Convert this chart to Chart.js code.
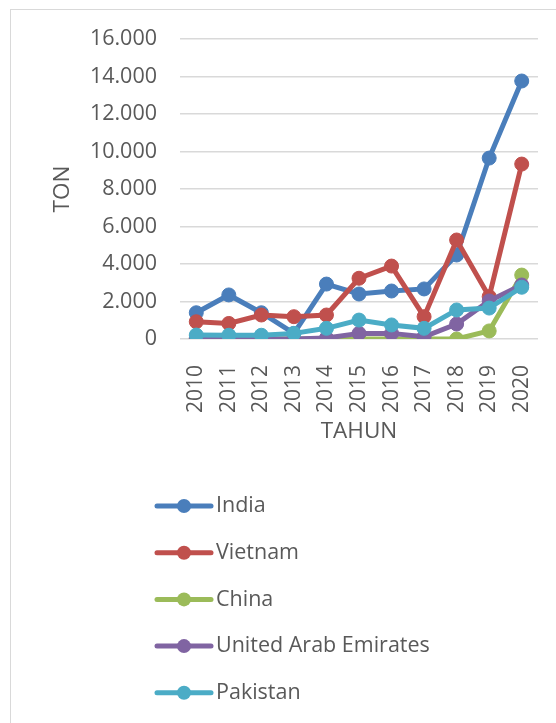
<!DOCTYPE html>
<html lang="id">
<head>
<meta charset="UTF-8">
<title>Ekspor per negara tujuan</title>
<script src="https://cdn.jsdelivr.net/npm/chart.js"></script>
<style>
    body { margin: 0; background: #fff; font-family: "Open Sans", sans-serif; }
    .frame { position: absolute; left: 10px; top: 9px; width: 600px; height: 800px; border: 1px solid #d9d9d9; }
    .wrap { position: absolute; left: 0; top: 0; width: 556px; height: 723px; }
</style>
</head>
<body>
<div class="frame"></div>
<div class="wrap"><canvas id="chart" width="556" height="723"></canvas></div>
<script>
    const years = ["2010", "2011", "2012", "2013", "2014", "2015", "2016", "2017", "2018", "2019", "2020"];
    const india = [1400, 2350, 1400, 300, 2930, 2400, 2560, 2670, 4480, 9650, 13760];
    const vietnam = [920, 830, 1280, 1190, 1280, 3240, 3890, 1190, 5280, 2260, 9330];
    const china = [0, 0, 0, 0, 0, 0, 0, 0, 0, 430, 3410];
    const uae = [50, 0, 0, 0, 50, 300, 300, 120, 800, 2030, 2880];
    const pakistan = [210, 200, 200, 300, 570, 1010, 750, 570, 1550, 1650, 2760];

    const names = ["India", "Vietnam", "China", "United Arab Emirates", "Pakistan"];
    const colors = ["#4a7ebb", "#c0504d", "#9bbb59", "#8064a2", "#4bacc6"];
    const series = [india, vietnam, china, uae, pakistan];

    const textColor = "#595959";
    const fontName = "'Open Sans', sans-serif";

    // legend drawn as a vertical list under the axis title
    const listLegend = {
        id: "listLegend",
        afterDraw(chart) {
            const ctx = chart.ctx;
            ctx.save();
            chart.data.datasets.forEach((ds, i) => {
                const y = 506 + i * 46.7;
                ctx.strokeStyle = ds.borderColor;
                ctx.lineWidth = 5;
                ctx.lineCap = "round";
                ctx.beginPath();
                ctx.moveTo(157, y);
                ctx.lineTo(211, y);
                ctx.stroke();
                ctx.fillStyle = ds.borderColor;
                ctx.beginPath();
                ctx.arc(184, y, 7, 0, Math.PI * 2);
                ctx.fill();
                ctx.fillStyle = textColor;
                ctx.font = "21.5px " + fontName;
                ctx.textBaseline = "middle";
                ctx.textAlign = "left";
                ctx.fillText(ds.label, 216, y);
            });
            ctx.restore();
        }
    };

    new Chart(document.getElementById("chart"), {
        type: "line",
        data: {
            labels: years,
            datasets: series.map((s, i) => ({
                label: names[i],
                data: s,
                borderColor: colors[i],
                backgroundColor: colors[i],
                borderWidth: 5,
                pointRadius: 7,
                pointBorderWidth: 1,
                pointHoverRadius: 7,
                tension: 0,
                order: 5 - i
            }))
        },
        options: {
            responsive: false,
            animation: false,
            layout: { padding: { left: 40, right: 18, top: 39, bottom: 273 } },
            plugins: {
                legend: { display: false },
                tooltip: { enabled: false }
            },
            scales: {
                x: {
                    offset: true,
                    grid: { display: false },
                    border: { display: false },
                    ticks: {
                        color: textColor,
                        font: { family: fontName, size: 21 },
                        minRotation: 90,
                        maxRotation: 90,
                        autoSkip: false,
                        padding: 18
                    },
                    title: {
                        display: true,
                        text: "TAHUN",
                        color: textColor,
                        font: { family: fontName, size: 22.5 },
                        padding: { top: 0, bottom: 5 }
                    },
                    afterFit: scale => {
                        scale.height = 111;
                        scale.paddingLeft = 0;
                        scale.paddingRight = 0;
                    }
                },
                y: {
                    min: 0,
                    max: 16000,
                    grid: { color: "#d9d9d9", lineWidth: 1.5, drawTicks: false },
                    border: { display: false },
                    ticks: {
                        stepSize: 2000,
                        color: textColor,
                        font: { family: fontName, size: 21.5 },
                        padding: 23,
                        callback: v => v.toLocaleString("de-DE")
                    },
                    title: {
                        display: true,
                        text: "TON",
                        color: textColor,
                        font: { family: fontName, size: 22.5 },
                        padding: { top: 9, bottom: 0 }
                    },
                    afterFit: scale => { scale.width = 140; }
                }
            }
        },
        plugins: [listLegend]
    });
</script>
</body>
</html>
